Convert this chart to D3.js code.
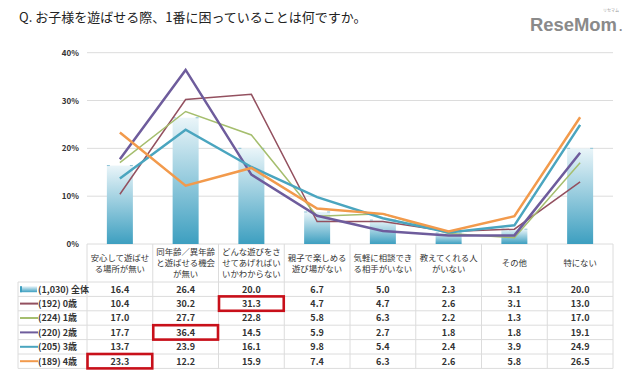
<!DOCTYPE html>
<html>
<head>
<meta charset="utf-8">
<script src="https://cdn.jsdelivr.net/npm/d3@7"></script>
<style>
  body { margin: 0; background: #fff; }
  svg { display: block; font-family: "Noto Sans CJK JP", "Noto Sans", sans-serif; }
</style>
</head>
<body>
<svg id="chart" width="640" height="376"></svg>
<script>
const title = "Q. お子様を遊ばせる際、1番に困っていることは何ですか。";

const categories = [
  ["安心して遊ばせ", "る場所が無い"],
  ["同年齢／異年齢", "と遊ばせる機会", "が無い"],
  ["どんな遊びをさ", "せてあげればい", "いかわからない"],
  ["親子で楽しめる", "遊び場がない"],
  ["気軽に相談でき", "る相手がいない"],
  ["教えてくれる人", "がいない"],
  ["その他"],
  ["特にない"]
];

const totalLabel = "(1,030) 全体";
const totalValues = [16.4, 26.4, 20.0, 6.7, 5.0, 2.3, 3.1, 20.0];

const ageLabels = ["(192) 0歳", "(224) 1歳", "(220) 2歳", "(205) 3歳", "(189) 4歳"];
const age0 = [10.4, 30.2, 31.3, 4.7, 4.7, 2.6, 3.1, 13.0];
const age1 = [17.0, 27.7, 22.8, 5.8, 6.3, 2.2, 1.3, 17.0];
const age2 = [17.7, 36.4, 14.5, 5.9, 2.7, 1.8, 1.8, 19.1];
const age3 = [13.7, 23.9, 16.1, 9.8, 5.4, 2.4, 3.9, 24.9];
const age4 = [23.3, 12.2, 15.9, 7.4, 6.3, 2.6, 5.8, 26.5];
const ageSeries = [age0, age1, age2, age3, age4];
const ageColors = ["#93505f", "#a5be6e", "#6e5c9c", "#4aa5bf", "#f29a4c"];
const ageWidths = [1.5, 1.5, 2.5, 2.5, 2.5];

const yTicks = [0, 10, 20, 30, 40];

// highlighted cells: [row index in table (0 = 全体), column index]
const highlights = [[1, 2], [3, 1], [5, 0]];

const svg = d3.select("#chart");

const left = 87, right = 613;
const x = d3.scaleBand().domain(d3.range(categories.length)).range([left, right]);
const y = d3.scaleLinear().domain([0, 40]).range([244, 52.7]);

// title
svg.append("text")
  .attr("x", 19).attr("y", 22)
  .attr("font-size", 13).attr("fill", "#222")
  .text(title);

// logo
svg.append("text")
  .attr("x", 530).attr("y", 31)
  .attr("font-family", "Liberation Sans, Arial, sans-serif")
  .attr("font-weight", "bold").attr("font-size", 19)
  .attr("fill", "#8a8a8a")
  .attr("textLength", 87).attr("lengthAdjust", "spacingAndGlyphs")
  .text("ReseMom");
svg.append("text")
  .attr("x", 619).attr("y", 31)
  .attr("font-family", "Liberation Sans, Arial, sans-serif")
  .attr("font-weight", "bold").attr("font-size", 12)
  .attr("fill", "#8a8a8a").text(".");
svg.append("text")
  .attr("x", 603).attr("y", 11.5)
  .attr("font-size", 4).attr("fill", "#999")
  .text("リセマム");

// gridlines + y labels
svg.append("g").selectAll("line")
  .data(yTicks)
  .join("line")
  .attr("x1", left).attr("x2", right)
  .attr("y1", d => y(d)).attr("y2", d => y(d))
  .attr("stroke", "#dcdcdc").attr("stroke-width", 1);

svg.append("g").selectAll("text")
  .data(yTicks)
  .join("text")
  .attr("x", 79).attr("y", d => y(d) + 3)
  .attr("text-anchor", "end")
  .attr("font-size", 8).attr("font-weight", "bold").attr("fill", "#333")
  .text(d => d + "%");

// bar gradient
const defs = svg.append("defs");
const grad = defs.append("linearGradient")
  .attr("id", "barGrad").attr("x1", 0).attr("y1", 0).attr("x2", 0).attr("y2", 1);
grad.append("stop").attr("offset", "0%").attr("stop-color", "#eaf5f9");
grad.append("stop").attr("offset", "100%").attr("stop-color", "#3d9fc0");

const barW = 26;
svg.append("g").selectAll("rect")
  .data(totalValues)
  .join("rect")
  .attr("x", (d, i) => x(i) + x.bandwidth() / 2 - barW / 2)
  .attr("y", d => y(d))
  .attr("width", barW)
  .attr("height", d => y(0) - y(d))
  .attr("fill", "url(#barGrad)");

svg.append("g").selectAll("line")
  .data(totalValues)
  .join("line")
  .attr("x1", (d, i) => x(i) + x.bandwidth() / 2 - barW / 2)
  .attr("x2", (d, i) => x(i) + x.bandwidth() / 2 + barW / 2)
  .attr("y1", d => y(d)).attr("y2", d => y(d))
  .attr("stroke", "#8cc3d6").attr("stroke-width", 1)
  .attr("stroke-dasharray", "3 20 3");

// lines
const line = d3.line()
  .x((d, i) => x(i) + x.bandwidth() / 2)
  .y(d => y(d));

svg.append("g").selectAll("path")
  .data(ageSeries)
  .join("path")
  .attr("d", d => line(d))
  .attr("fill", "none")
  .attr("stroke", (d, i) => ageColors[i])
  .attr("stroke-width", (d, i) => ageWidths[i])
  .attr("stroke-linejoin", "miter");

// table
const headTop = 244, headBottom = 282, rowH = 14.4;
const labelLeft = 18;
const rows = [totalValues].concat(ageSeries);
const tableBottom = headBottom + rows.length * rowH;
const grid = svg.append("g").attr("stroke", "#dcdcdc").attr("stroke-width", 1);

// vertical borders
grid.selectAll("line.v")
  .data(d3.range(categories.length + 1))
  .join("line")
  .attr("class", "v")
  .attr("x1", i => i < categories.length ? x(i) : right)
  .attr("x2", i => i < categories.length ? x(i) : right)
  .attr("y1", headTop).attr("y2", tableBottom);
grid.append("line")
  .attr("x1", labelLeft).attr("x2", labelLeft)
  .attr("y1", headBottom).attr("y2", tableBottom);

// horizontal borders
grid.selectAll("line.h")
  .data(d3.range(rows.length + 1))
  .join("line")
  .attr("class", "h")
  .attr("x1", labelLeft).attr("x2", right)
  .attr("y1", i => headBottom + i * rowH)
  .attr("y2", i => headBottom + i * rowH);

// header text
const head = svg.append("g")
  .attr("font-size", 8.4).attr("fill", "#333").attr("text-anchor", "middle");
categories.forEach((lines, i) => {
  const cx = x(i) + x.bandwidth() / 2;
  const mid = (headTop + headBottom) / 2 + 3;
  lines.forEach((t, j) => {
    head.append("text")
      .attr("x", cx)
      .attr("y", mid + (j - (lines.length - 1) / 2) * 11)
      .text(t);
  });
});

// row labels with legend swatches
const rowLabels = [totalLabel].concat(ageLabels);
const rl = svg.append("g");
rowLabels.forEach((t, r) => {
  const cy = headBottom + r * rowH + rowH / 2;
  if (r === 0) {
    rl.append("rect")
      .attr("x", 20).attr("y", cy - 3).attr("width", 17).attr("height", 6)
      .attr("fill", "url(#barGrad)");
    rl.append("rect")
      .attr("x", 20).attr("y", cy - 3).attr("width", 2).attr("height", 6)
      .attr("fill", "#3d9fc0");
  } else {
    rl.append("line")
      .attr("x1", 20).attr("x2", 38)
      .attr("y1", cy).attr("y2", cy)
      .attr("stroke", ageColors[r - 1]).attr("stroke-width", 2);
  }
  rl.append("text")
    .attr("x", 38).attr("y", cy + 3.3)
    .attr("font-size", 9).attr("font-weight", "bold").attr("fill", "#333")
    .text(t);
});

// values
const vals = svg.append("g")
  .attr("font-size", 9).attr("font-weight", "bold").attr("fill", "#333")
  .attr("text-anchor", "middle");
rows.forEach((series, r) => {
  vals.selectAll(null)
    .data(series)
    .join("text")
    .attr("x", (d, i) => x(i) + x.bandwidth() / 2)
    .attr("y", headBottom + r * rowH + rowH / 2 + 3.3)
    .text(d => d.toFixed(1));
});

// red highlight boxes
svg.append("g").selectAll("rect")
  .data(highlights)
  .join("rect")
  .attr("x", d => x(d[1]) + 0.5)
  .attr("y", d => headBottom + d[0] * rowH)
  .attr("width", x.bandwidth() - 1)
  .attr("height", rowH)
  .attr("fill", "none")
  .attr("stroke", "#c8101a").attr("stroke-width", 2.6);
</script>
</body>
</html>
